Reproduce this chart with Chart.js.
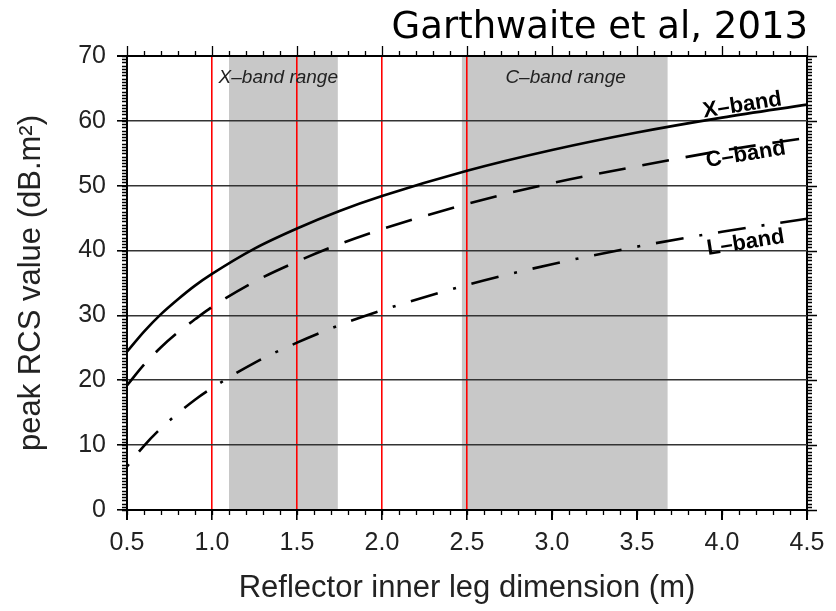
<!DOCTYPE html>
<html>
<head>
<meta charset="utf-8">
<script src="https://cdn.jsdelivr.net/npm/chart.js@4"></script>
<style>
  body { margin: 0; background: #fff; }
  #wrap { width: 836px; height: 611px; }
</style>
</head>
<body>
<div id="wrap"><canvas id="rcsChart" width="836" height="611"></canvas></div>
<script>
// leg dimension (m) and peak RCS (dB.m2)
const legDims = [0.5, 0.6, 0.7, 0.8, 0.9, 1.0, 1.25, 1.5, 1.75, 2.0, 2.5, 3.0, 3.5, 4.0, 4.5];
const xBand = [24.4, 27.5, 30.2, 32.5, 34.6, 36.4, 40.3, 43.4, 46.1, 48.4, 52.3, 55.5, 58.2, 60.5, 62.5];
const cBand = [19.2, 22.4, 25.1, 27.4, 29.4, 31.3, 35.2, 38.3, 41.0, 43.3, 47.2, 50.4, 53.0, 55.4, 57.4];
const lBand = [6.7, 9.9, 12.6, 14.9, 17.0, 18.8, 22.7, 25.8, 28.5, 30.8, 34.7, 37.9, 40.6, 42.9, 44.9];

const redLines = [1.0, 1.5, 2.0, 2.5];
const xBandRange = [1.1, 1.74];
const cBandRange = [2.47, 3.68];

const bandLabels = ['X\u2013band', 'C\u2013band', 'L\u2013band'];
const bandLabelPos = [[4.12, 62.4], [4.14, 54.8], [4.14, 41.2]];

function pts(ys) {
	return legDims.map((x, i) => ({ x: x, y: ys[i] }));
}

// grey range boxes, under the grid
const shadePlugin = {
	id: 'shade',
	beforeDraw(chart) {
		const ctx = chart.ctx;
		const xs = chart.scales.x;
		const a = chart.chartArea;
		ctx.save();
		ctx.fillStyle = '#c8c8c8';
		[xBandRange, cBandRange].forEach(r => {
			const x0 = xs.getPixelForValue(r[0]);
			const x1 = xs.getPixelForValue(r[1]);
			ctx.fillRect(x0, a.top, x1 - x0, a.bottom - a.top);
		});
		ctx.restore();
	}
};

// minor ticks + frame ticks + text
const decoPlugin = {
	id: 'deco',
	afterDraw(chart) {
		const ctx = chart.ctx;
		const xs = chart.scales.x;
		const ys = chart.scales.y;
		const a = chart.chartArea;
		ctx.save();
		ctx.strokeStyle = '#000';
		ctx.lineWidth = 1.3;
		ctx.beginPath();
		for (let i = 5; i <= 45; i++) {
			const px = Math.round(xs.getPixelForValue(i / 10)) + 0.5;
			const len = (i % 5 === 0) ? 10 : 5;
			ctx.moveTo(px, a.bottom); ctx.lineTo(px, a.bottom + 5);
			ctx.moveTo(px, a.top); ctx.lineTo(px, a.top - len);
		}
		for (let j = 0; j <= 140; j++) {
			const py = Math.round(ys.getPixelForValue(j / 2)) + 0.5;
			const len = (j % 20 === 0) ? 10 : 5;
			ctx.moveTo(a.left, py); ctx.lineTo(a.left - 5, py);
			ctx.moveTo(a.right, py); ctx.lineTo(a.right + len, py);
		}
		ctx.stroke();

		// band labels
		ctx.fillStyle = '#000';
		ctx.textAlign = 'center';
		ctx.textBaseline = 'middle';
		ctx.font = 'bold 22px "Liberation Sans", Arial, sans-serif';
		bandLabels.forEach((t, i) => {
			const px = xs.getPixelForValue(bandLabelPos[i][0]);
			const py = ys.getPixelForValue(bandLabelPos[i][1]);
			ctx.save();
			ctx.translate(px, py);
			ctx.rotate(-9 * Math.PI / 180);
			ctx.fillText(t, 0, 0);
			ctx.restore();
		});

		// range captions
		ctx.font = 'italic 19px "Liberation Sans", Arial, sans-serif';
		ctx.fillStyle = '#222';
		ctx.fillText('X\u2013band range', xs.getPixelForValue(1.39), ys.getPixelForValue(66.6));
		ctx.fillText('C\u2013band range', xs.getPixelForValue(3.08), ys.getPixelForValue(66.6));

		// credit
		ctx.font = '37px "DejaVu Sans", Verdana, sans-serif';
		ctx.fillStyle = '#000';
		ctx.textAlign = 'right';
		ctx.textBaseline = 'alphabetic';
		ctx.fillText('Garthwaite et al, 2013', 808, 38);
		ctx.restore();
	}
};

const ctx = document.getElementById('rcsChart').getContext('2d');
new Chart(ctx, {
	type: 'line',
	data: {
		datasets: [
			{ label: 'X-band', data: pts(xBand), borderColor: '#000', borderWidth: 2.6, pointRadius: 0, fill: false, cubicInterpolationMode: 'monotone' },
			{ label: 'C-band', data: pts(cBand), borderColor: '#000', borderWidth: 2.6, borderDash: [27, 17], pointRadius: 0, fill: false, cubicInterpolationMode: 'monotone' },
			{ label: 'L-band', data: pts(lBand), borderColor: '#000', borderWidth: 2.6, borderDash: [3, 16, 28, 16], pointRadius: 0, fill: false, cubicInterpolationMode: 'monotone' }
		]
	},
	options: {
		responsive: false,
		animation: false,
		devicePixelRatio: 1,
		layout: { padding: { top: 56, right: 29, left: 0, bottom: 0 } },
		plugins: {
			legend: { display: false },
			tooltip: { enabled: false }
		},
		scales: {
			x: {
				type: 'linear',
				min: 0.5,
				max: 4.5,
				afterFit: s => { s.height = 101; },
				ticks: {
					stepSize: 0.5,
					padding: 8,
					color: '#222',
					font: { family: '"Liberation Sans", Arial, sans-serif', size: 25 },
					callback: v => v.toFixed(1)
				},
				grid: {
					color: c => redLines.includes(c.tick.value) ? '#ff0000' : (c.tick.value === 4.5 ? '#000' : 'rgba(0,0,0,0)'),
					lineWidth: c => redLines.includes(c.tick.value) ? 1.6 : 2,
					tickColor: '#000',
					tickLength: 10
				},
				border: { color: '#000', width: 2 },
				title: {
					display: true,
					text: 'Reflector inner leg dimension (m)',
					color: '#222',
					font: { family: '"Liberation Sans", Arial, sans-serif', size: 31 },
					padding: { top: 12 }
				}
			},
			y: {
				min: 0,
				max: 70,
				afterFit: s => { s.width = 127; },
				ticks: {
					stepSize: 10,
					padding: 11,
					color: '#222',
					font: { family: '"Liberation Sans", Arial, sans-serif', size: 25 }
				},
				grid: {
					color: c => (c.tick.value === 70 ? '#000' : '#333'),
					lineWidth: c => (c.tick.value === 70 ? 2 : 1.6),
					tickColor: '#000',
					tickLength: 10
				},
				border: { color: '#000', width: 2 },
				title: {
					display: true,
					text: 'peak RCS value (dB.m\u00b2)',
					color: '#222',
					font: { family: '"Liberation Sans", Arial, sans-serif', size: 31 },
					padding: { top: 13, bottom: 0 }
				}
			}
		}
	},
	plugins: [shadePlugin, decoPlugin]
});
</script>
</body>
</html>
